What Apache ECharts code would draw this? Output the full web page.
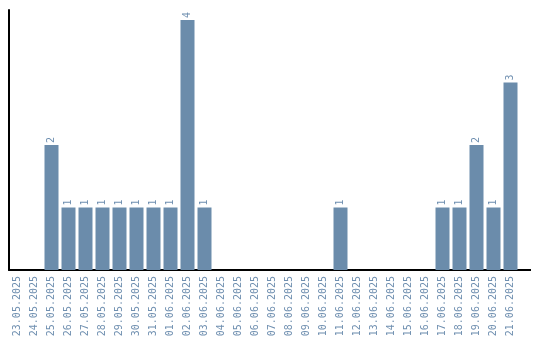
<!DOCTYPE html>
<html><head><meta charset="utf-8">
<script src="https://cdn.jsdelivr.net/npm/echarts@6/dist/echarts.min.js"></script>
<style>html,body{margin:0;padding:0;background:#fff}#c{width:540px;height:340px}</style>
</head><body><div id="c"></div>
<script>
const categories = ["23.05.2025","24.05.2025","25.05.2025","26.05.2025","27.05.2025","28.05.2025","29.05.2025","30.05.2025","31.05.2025","01.06.2025","02.06.2025","03.06.2025","04.06.2025","05.06.2025","06.06.2025","07.06.2025","08.06.2025","09.06.2025","10.06.2025","11.06.2025","12.06.2025","13.06.2025","14.06.2025","15.06.2025","16.06.2025","17.06.2025","18.06.2025","19.06.2025","20.06.2025","21.06.2025"];
const values = [0,0,2,1,1,1,1,1,1,1,4,1,0,0,0,0,0,0,0,1,0,0,0,0,0,1,1,2,1,3];
const barColor = '#6b8cab';
const textColor = '#6f8fb0';
const chart = echarts.init(document.getElementById('c'), null, {renderer:'canvas'});
chart.setOption({
  animation:false,
  grid:{left:9, top:10, width:510, bottom:70, containLabel:false},
  xAxis:{type:'category', data:categories, boundaryGap:true,
    axisLine:{lineStyle:{color:'#000', width:2}}, axisTick:{show:false},
    axisLabel:{rotate:90, interval:0, color:textColor, fontFamily:'DejaVu Sans Mono', fontSize:10, margin:6}},
  yAxis:{type:'value', min:0, max:4.16, show:true, splitLine:{show:false},
    axisLine:{show:true, lineStyle:{color:'#000', width:2}}, axisTick:{show:false}, axisLabel:{show:false}},
  graphic:[{type:'line', shape:{x1:519, y1:270, x2:531, y2:270}, style:{stroke:'#000', lineWidth:2}}],
  series:[{type:'bar', data:values.map(v=>v===0?null:v), barWidth:14, itemStyle:{color:barColor},
    label:{show:true, position:'top', rotate:90, distance:2, align:'left', verticalAlign:'middle', color:textColor, fontFamily:'DejaVu Sans Mono', fontSize:10}}]
});
</script></body></html>
